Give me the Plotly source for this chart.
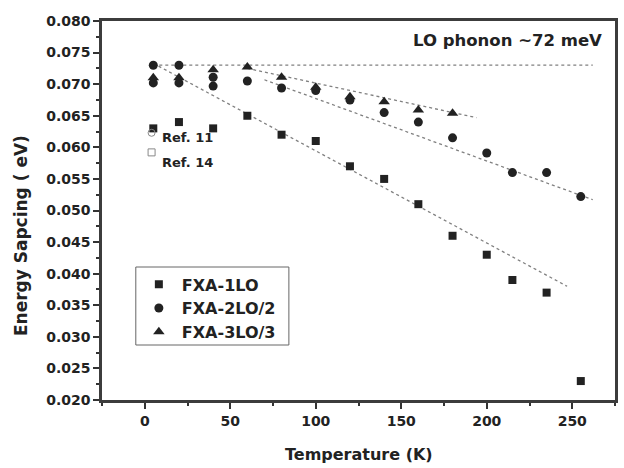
import plotly.graph_objects as go

# ---- data ----
T_1LO = [5, 20, 40, 60, 80, 100, 120, 140, 160, 180, 200, 215, 235, 255]
E_1LO = [0.063, 0.064, 0.063, 0.065, 0.062, 0.061, 0.057, 0.055, 0.051, 0.046, 0.043, 0.039, 0.037, 0.023]

T_2LO = [5, 5, 20, 20, 40, 40, 60, 80, 100, 120, 140, 160, 180, 200, 215, 235, 255]
E_2LO = [0.073, 0.0702, 0.073, 0.0702, 0.0711, 0.0697, 0.0705, 0.0694, 0.0690, 0.0675, 0.0655, 0.0640, 0.0615, 0.0591, 0.0560, 0.0560, 0.0522]

T_3LO = [5, 20, 40, 60, 80, 100, 120, 140, 160, 180]
E_3LO = [0.0710, 0.0710, 0.0723, 0.0727, 0.0711, 0.0695, 0.0680, 0.0672, 0.0659, 0.0654]

# reference points
T_ref11 = [4]
E_ref11 = [0.0623]
T_ref14 = [4]
E_ref14 = [0.0592]

# dotted guide / fit lines (endpoints)
T_LO = [5, 262]
E_LO = [0.073, 0.073]
T_fit1 = [5, 247]
E_fit1 = [0.0733, 0.0380]
T_fit2 = [70, 262]
E_fit2 = [0.0707, 0.0517]
T_fit3 = [60, 194]
E_fit3 = [0.0725, 0.0647]

x_ticks = [0, 50, 100, 150, 200, 250]
y_ticks = [0.020, 0.025, 0.030, 0.035, 0.040, 0.045, 0.050, 0.055, 0.060, 0.065, 0.070, 0.075, 0.080]

FONT = "DejaVu Sans"
INK = "#222222"
LINE = "#808080"

fig = go.Figure()

for tx, ey in [(T_LO, E_LO), (T_fit1, E_fit1), (T_fit2, E_fit2), (T_fit3, E_fit3)]:
    fig.add_trace(go.Scatter(x=tx, y=ey, mode="lines",
                             line=dict(color=LINE, width=1.3, dash="dot"),
                             showlegend=False, hoverinfo="skip"))

fig.add_trace(go.Scatter(x=T_1LO, y=E_1LO, mode="markers", name="FXA-1LO",
                         marker=dict(symbol="square", size=8, color=INK)))
fig.add_trace(go.Scatter(x=T_2LO, y=E_2LO, mode="markers", name="FXA-2LO/2",
                         marker=dict(symbol="circle", size=9, color=INK)))
fig.add_trace(go.Scatter(x=T_3LO, y=E_3LO, mode="markers", name="FXA-3LO/3",
                         marker=dict(symbol="triangle-up", size=10, color=INK)))

fig.add_trace(go.Scatter(x=T_ref11, y=E_ref11, mode="markers", showlegend=False,
                         marker=dict(symbol="circle-open", size=7, color="#888888",
                                     line=dict(width=1))))
fig.add_trace(go.Scatter(x=T_ref14, y=E_ref14, mode="markers", showlegend=False,
                         marker=dict(symbol="square-open", size=7, color="#888888",
                                     line=dict(width=1))))

fig.add_annotation(x=9, y=0.0615, text="Ref. 11", showarrow=False, xanchor="left",
                   yanchor="middle", font=dict(family=FONT, size=13, color=INK, weight="bold"))
fig.add_annotation(x=9, y=0.0576, text="Ref. 14", showarrow=False, xanchor="left",
                   yanchor="middle", font=dict(family=FONT, size=13, color=INK, weight="bold"))
fig.add_annotation(x=268.5, y=0.0769, text="LO phonon ~72 meV", showarrow=False,
                   xanchor="right", yanchor="middle",
                   font=dict(family=FONT, size=16.5, color=INK, weight="bold"))

fig.add_annotation(xref="paper", yref="paper", x=0.5, y=-0.145, text="Temperature (K)",
                   showarrow=False, xanchor="center", yanchor="middle",
                   font=dict(family=FONT, size=16, color=INK, weight="bold"))
fig.add_annotation(xref="paper", yref="paper", x=-0.158, y=0.435, text="Energy Sapcing ( eV)",
                   showarrow=False, textangle=-90, xanchor="center", yanchor="middle",
                   font=dict(family=FONT, size=17, color=INK, weight="bold"))

# legend frame
fig.add_shape(type="rect", xref="paper", yref="paper", x0=0.0659, x1=0.3643, y0=0.1451, y1=0.3509,
              line=dict(color="#666666", width=1), fillcolor="rgba(0,0,0,0)", layer="above")

axis_common = dict(showgrid=False, zeroline=False, showline=True, mirror=True,
                   linecolor="#3c3c3c", linewidth=2.5, ticks="outside", ticklen=6,
                   tickwidth=1.5, tickcolor="#333333",
                   tickfont=dict(family=FONT, size=14, color=INK, weight="bold"))

fig.update_xaxes(range=[-25, 275], tickvals=x_ticks,
                 minor=dict(ticks="outside", ticklen=3, tickwidth=1.5, tickcolor="#333333", dtick=25, tick0=0),
                 **axis_common)
fig.update_yaxes(range=[0.020, 0.080], tickvals=y_ticks, tickformat=".3f",
                 minor=dict(ticks="outside", ticklen=3, tickwidth=1.5, tickcolor="#333333", dtick=0.0025, tick0=0.02),
                 **axis_common)

fig.update_layout(
    width=624, height=468,
    margin=dict(l=102, r=6, t=21, b=68),
    paper_bgcolor="white", plot_bgcolor="white",
    legend=dict(x=0.066, y=0.35, xanchor="left", yanchor="top",
                borderwidth=0, bgcolor="rgba(0,0,0,0)",
                font=dict(family=FONT, size=16, color=INK, weight="bold"),
                tracegroupgap=0, itemwidth=36),
)

fig.write_html("out.html", config={"displayModeBar": False},
               post_script="document.body.style.margin='0';")
